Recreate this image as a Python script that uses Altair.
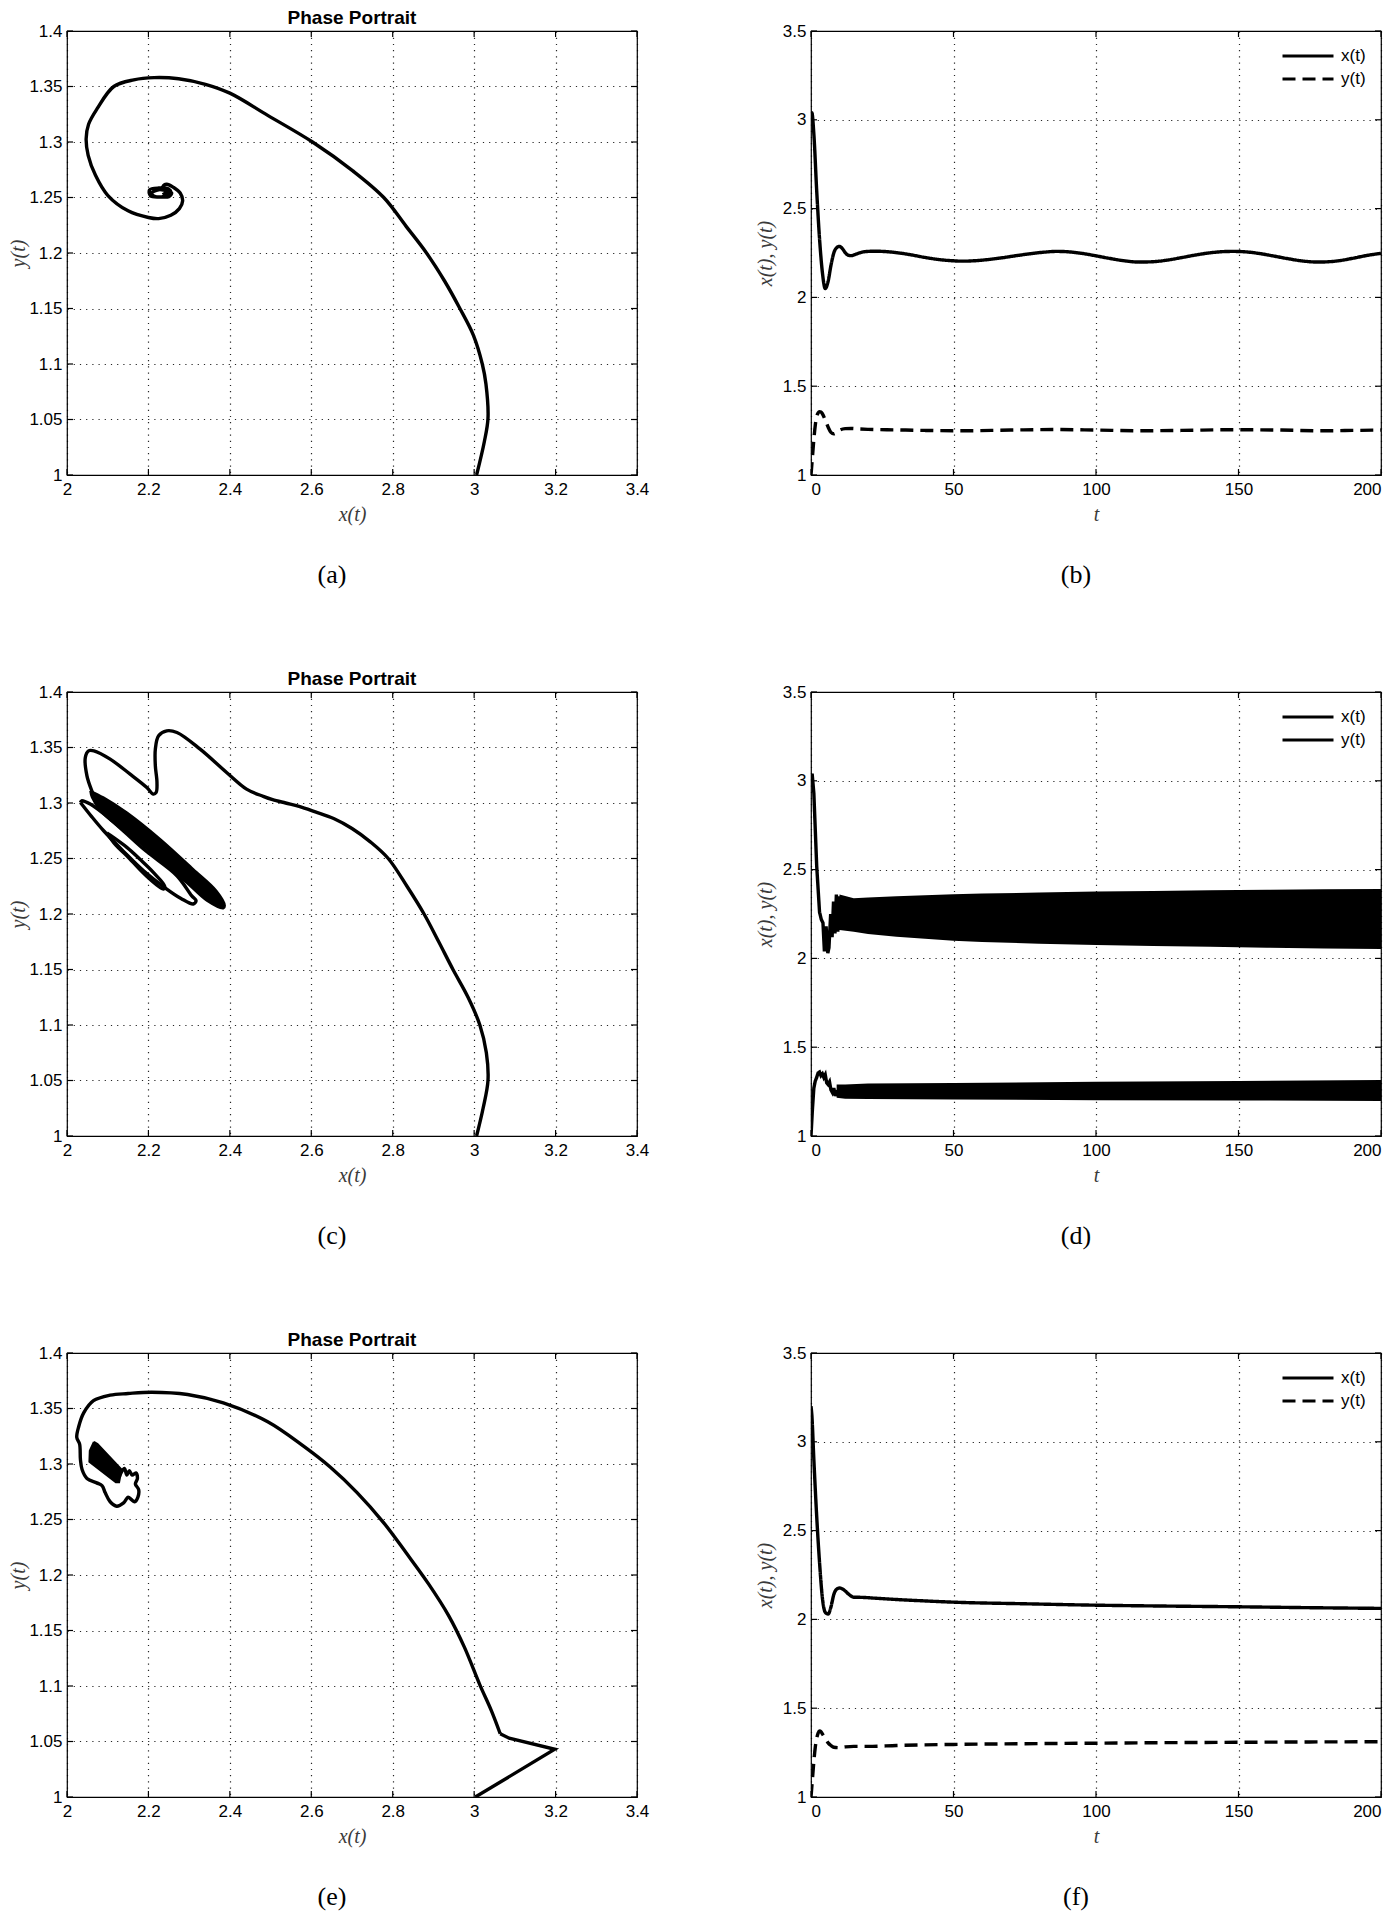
import altair as alt
import pandas as pd

SANS = "Liberation Sans"
SERIF = "Liberation Serif"
W, H = 570, 444
TICK_LEN = 6

# ---------------- tick labels / categories ----------------
PHASE_X_TICKS = [2.0, 2.2, 2.4, 2.6, 2.8, 3.0, 3.2, 3.4]
PHASE_Y_TICKS = [1.0, 1.05, 1.1, 1.15, 1.2, 1.25, 1.3, 1.35, 1.4]
TIME_X_TICKS = [0, 50, 100, 150, 200]
TIME_Y_TICKS = [1.0, 1.5, 2.0, 2.5, 3.0, 3.5]
SERIES = ["x(t)", "y(t)"]
CAPTIONS = ["(a)", "(b)", "(c)", "(d)", "(e)", "(f)"]
PHASE_TITLE = "Phase Portrait"

# ---------------- (a) phase portrait ----------------
a_x = [3.006, 3.025, 3.034, 3.029, 3.020, 2.998, 2.965, 2.927, 2.883, 2.833, 2.778, 2.702,
       2.603, 2.493, 2.400, 2.340, 2.274, 2.214, 2.164, 2.115, 2.074, 2.053, 2.047, 2.052,
       2.070, 2.100, 2.150, 2.200, 2.225, 2.255, 2.276, 2.284, 2.278, 2.262, 2.245, 2.236,
       2.240, 2.257, 2.250, 2.230, 2.205, 2.203, 2.225, 2.250, 2.255, 2.240, 2.215, 2.207,
       2.225, 2.245, 2.235]
a_y = [1.000, 1.030, 1.051, 1.082, 1.100, 1.126, 1.150, 1.175, 1.200, 1.224, 1.250, 1.274,
       1.300, 1.324, 1.344, 1.352, 1.357, 1.358, 1.356, 1.350, 1.330, 1.316, 1.303, 1.288,
       1.270, 1.252, 1.238, 1.232, 1.231, 1.234, 1.240, 1.247, 1.254, 1.259, 1.262, 1.260,
       1.256, 1.254, 1.2508, 1.2505, 1.2515, 1.257, 1.2585, 1.2575, 1.2545, 1.2512, 1.251,
       1.2535, 1.257, 1.2555, 1.2525]

# ---------------- (c) phase portrait ----------------
c_main_x = [3.006, 3.022, 3.034, 3.030, 3.014, 2.985, 2.948, 2.913, 2.877, 2.835, 2.789, 2.745,
            2.700, 2.655, 2.610, 2.570, 2.537, 2.505, 2.482, 2.441, 2.392, 2.327, 2.270, 2.245,
            2.225, 2.217, 2.217, 2.221, 2.219, 2.212, 2.196, 2.155, 2.106, 2.066, 2.053, 2.045,
            2.049, 2.061, 2.074]
c_main_y = [1.000, 1.025, 1.050, 1.075, 1.100, 1.125, 1.150, 1.175, 1.200, 1.225, 1.250, 1.265,
            1.277, 1.286, 1.292, 1.297, 1.300, 1.303, 1.306, 1.3125, 1.3275, 1.3485, 1.3635, 1.365,
            1.3605, 1.3485, 1.3335, 1.3185, 1.3095, 1.308, 1.314, 1.326, 1.3395, 1.347, 1.347,
            1.341, 1.3245, 1.311, 1.3005]
c_outer_x = [2.033, 2.060, 2.090, 2.140, 2.188, 2.245, 2.280, 2.310, 2.317, 2.306, 2.270, 2.188,
             2.106, 2.057, 2.036, 2.033]
c_outer_y = [1.3005, 1.288, 1.275, 1.256, 1.239, 1.2225, 1.214, 1.209, 1.212, 1.2165, 1.2345, 1.2585,
             1.2855, 1.299, 1.302, 1.3005]
c_inner_x = [2.098, 2.120, 2.147, 2.190, 2.237, 2.240, 2.212, 2.180, 2.147, 2.106, 2.098]
c_inner_y = [1.273, 1.262, 1.2525, 1.236, 1.2225, 1.225, 1.2375, 1.249, 1.260, 1.271, 1.273]
c_fill_x = [2.057, 2.090, 2.147, 2.229, 2.310, 2.367, 2.388, 2.384, 2.343, 2.294, 2.229, 2.172,
            2.123, 2.082, 2.061, 2.057]
c_fill_y = [1.311, 1.305, 1.2915, 1.2675, 1.2405, 1.221, 1.2075, 1.205, 1.212, 1.228, 1.248, 1.266,
            1.2795, 1.293, 1.305, 1.311]

# ---------------- (e) phase portrait ----------------
e_seg_x = [3.003, 3.198, 3.086, 3.064]
e_seg_y = [1.000, 1.043, 1.053, 1.057]
e_x = [3.064, 3.042, 3.014, 2.976, 2.938, 2.888, 2.833, 2.778, 2.713,
       2.647, 2.581, 2.493, 2.384, 2.296, 2.208, 2.150, 2.106, 2.065, 2.041, 2.029, 2.024,
       2.031, 2.033, 2.037, 2.049, 2.073, 2.086, 2.094, 2.106, 2.122, 2.139, 2.150, 2.158,
       2.166, 2.174, 2.176, 2.168, 2.173, 2.169, 2.160, 2.153, 2.147, 2.141, 2.134, 2.128]
e_y = [1.057, 1.078, 1.101, 1.135, 1.163, 1.192, 1.220, 1.247, 1.274,
       1.297, 1.316, 1.338, 1.355, 1.3626, 1.3647, 1.3635, 1.362, 1.357, 1.346, 1.334, 1.324,
       1.318, 1.304, 1.295, 1.287, 1.283, 1.2805, 1.274, 1.266, 1.262, 1.265, 1.270, 1.268,
       1.266, 1.270, 1.277, 1.282, 1.287, 1.292, 1.290, 1.294, 1.290, 1.296, 1.293, 1.288]
e_fill_x = [2.066, 2.075, 2.134, 2.128, 2.120, 2.055, 2.056, 2.066]
e_fill_y = [1.320, 1.318, 1.295, 1.2835, 1.2835, 1.302, 1.312, 1.320]

# ---------------- (b) time series ----------------
bx_t = [0, 0.3, 1, 2, 3, 4, 5, 6, 7, 8, 9, 10, 11, 12, 13, 14, 16, 18, 20, 23, 27, 31, 35, 40,
        45, 50, 53, 57, 62, 67, 72, 77, 82, 86, 90, 95, 100, 105, 110, 115, 120, 125, 130, 135,
        140, 145, 148, 152, 157, 162, 167, 172, 178, 184, 190, 195, 200]
bx_v = [3.00, 3.04, 2.92, 2.60, 2.33, 2.14, 2.05, 2.09, 2.18, 2.25, 2.28, 2.287, 2.275, 2.252,
        2.238, 2.235, 2.245, 2.255, 2.259, 2.260, 2.257, 2.250, 2.240, 2.225, 2.213, 2.206, 2.204,
        2.206, 2.213, 2.223, 2.235, 2.246, 2.255, 2.259, 2.257, 2.248, 2.234, 2.219, 2.206, 2.199,
        2.201, 2.210, 2.224, 2.239, 2.251, 2.258, 2.259, 2.257, 2.248, 2.234, 2.219, 2.206, 2.199,
        2.204, 2.220, 2.236, 2.248]
by_t = [0, 0.5, 1, 1.5, 2, 2.5, 3, 3.5, 4, 5, 6, 7, 8, 9, 10, 12, 14, 17, 20, 30, 40, 53, 70,
        85, 100, 115, 130, 148, 165, 178, 190, 200]
by_v = [1.0, 1.1, 1.2, 1.28, 1.33, 1.35, 1.357, 1.355, 1.345, 1.31, 1.27, 1.24, 1.232, 1.24,
        1.252, 1.261, 1.262, 1.259, 1.257, 1.254, 1.251, 1.249, 1.253, 1.256, 1.253, 1.249, 1.251,
        1.255, 1.253, 1.249, 1.251, 1.253]

# ---------------- (d) time series ----------------
dx_t = [0, 0.4, 1, 2, 3, 3.6, 4.2, 4.7, 5.3, 5.9, 6.3, 6.9, 7.4, 7.9, 8.4, 8.9, 9.4, 9.9, 10.4]
dx_v = [3.0, 3.04, 2.93, 2.52, 2.26, 2.22, 2.20, 2.04, 2.18, 2.03, 2.06, 2.25, 2.12, 2.32, 2.14,
        2.36, 2.15, 2.35, 2.16]
dxband_t = [10, 15, 20, 30, 40, 50, 60, 80, 100, 120, 140, 160, 180, 200]
dxband_hi = [2.36, 2.338, 2.343, 2.35, 2.356, 2.361, 2.365, 2.371, 2.376, 2.38, 2.384, 2.387,
             2.389, 2.391]
dxband_lo = [2.16, 2.15, 2.138, 2.122, 2.11, 2.1, 2.093, 2.083, 2.075, 2.07, 2.065, 2.06, 2.056,
             2.053]
dy_t = [0, 0.5, 1, 1.5, 2, 2.5, 3, 3.5, 4, 4.5, 5, 5.5, 6, 6.5, 7, 7.5, 8, 8.5, 9]
dy_v = [1.0, 1.15, 1.27, 1.31, 1.33, 1.355, 1.36, 1.34, 1.35, 1.33, 1.345, 1.30, 1.29, 1.305,
        1.26, 1.245, 1.27, 1.225, 1.26]
dyband_t = [9, 12, 20, 50, 100, 150, 200]
dyband_hi = [1.29, 1.29, 1.295, 1.298, 1.305, 1.31, 1.315]
dyband_lo = [1.215, 1.21, 1.208, 1.205, 1.202, 1.2, 1.197]

# ---------------- (f) time series ----------------
fx_t = [0, 0.3, 1, 2, 3, 4, 5, 6, 7, 8, 9, 10, 11, 12, 13, 14, 15, 18, 22, 30, 40, 50, 75, 100,
        125, 150, 175, 200]
fx_v = [3.2, 3.15, 2.9, 2.58, 2.32, 2.12, 2.04, 2.03, 2.07, 2.14, 2.17, 2.177, 2.172, 2.16,
        2.145, 2.132, 2.125, 2.124, 2.12, 2.112, 2.104, 2.097, 2.088, 2.08, 2.075, 2.071, 2.066,
        2.062]
fy_t = [0, 0.5, 1, 1.5, 2, 2.5, 3, 3.5, 4, 5, 6, 7, 8, 10, 12, 15, 20, 30, 50, 75, 100, 125, 150,
        175, 200]
fy_v = [1.0, 1.1, 1.2, 1.28, 1.33, 1.36, 1.372, 1.368, 1.355, 1.33, 1.305, 1.29, 1.28, 1.278,
        1.282, 1.285, 1.285, 1.29, 1.296, 1.3, 1.303, 1.306, 1.308, 1.31, 1.311]

LINE_W = 3.4


# ---------------- helpers ----------------
def caption_layer(text):
    return alt.Chart(pd.DataFrame({"cap": [text]})).mark_text(
        font=SERIF, fontSize=26, align="center", baseline="middle", color="black"
    ).encode(x=alt.value(265), y=alt.value(544), text="cap:N")


def title_layer(text):
    return alt.Chart(pd.DataFrame({"ttl": [text]})).mark_text(
        font=SANS, fontSize=19, fontWeight="bold", align="center", baseline="middle", color="black"
    ).encode(x=alt.value(W / 2), y=alt.value(-13), text="ttl:N")


def tick_layers(xvals, yvals, xenc_fn, yenc_fn):
    """Inward tick marks on all four sides, placed through the panel's own scales."""
    xdf = pd.DataFrame({"tx": xvals})
    ydf = pd.DataFrame({"ty": yvals})
    rule = dict(color="black", strokeWidth=1.2)
    return [
        alt.Chart(xdf).mark_rule(**rule).encode(x=xenc_fn("tx"), y=alt.value(H), y2=alt.value(H - TICK_LEN)),
        alt.Chart(xdf).mark_rule(**rule).encode(x=xenc_fn("tx"), y=alt.value(0), y2=alt.value(TICK_LEN)),
        alt.Chart(ydf).mark_rule(**rule).encode(y=yenc_fn("ty"), x=alt.value(0), x2=alt.value(TICK_LEN)),
        alt.Chart(ydf).mark_rule(**rule).encode(y=yenc_fn("ty"), x=alt.value(W), x2=alt.value(W - TICK_LEN)),
    ]


def phase_x(field="x"):
    return alt.X(f"{field}:Q", scale=alt.Scale(domain=[2, 3.4], nice=False, zero=False),
                 axis=alt.Axis(values=PHASE_X_TICKS, format="~g", title="x(t)"))


def phase_y(field="y"):
    return alt.Y(f"{field}:Q", scale=alt.Scale(domain=[1, 1.4], nice=False, zero=False),
                 axis=alt.Axis(values=PHASE_Y_TICKS, format="~g", title="y(t)", titlePadding=0))


def to_df(parts):
    rows = []
    for name, xs, ys in parts:
        for i, (xv, yv) in enumerate(zip(xs, ys)):
            rows.append({"part": name, "i": i, "x": xv, "y": yv})
    return pd.DataFrame(rows)


def phase_panel(curves, caption, straight=None, fills=None, smooth_fill=True):
    layers = tick_layers(PHASE_X_TICKS, PHASE_Y_TICKS, phase_x, phase_y)
    if fills:
        layers.append(
            alt.Chart(to_df(fills)).mark_line(
                fill="black", stroke="black", strokeWidth=2, clip=True,
                interpolate="catmull-rom" if smooth_fill else "linear")
            .encode(x=phase_x(), y=phase_y(), order="i:Q", detail="part:N")
        )
    if straight:
        layers.append(
            alt.Chart(to_df(straight)).mark_line(color="black", strokeWidth=LINE_W, clip=True)
            .encode(x=phase_x(), y=phase_y(), order="i:Q", detail="part:N")
        )
    layers.append(
        alt.Chart(to_df(curves)).mark_line(color="black", strokeWidth=LINE_W, clip=True,
                                           interpolate="catmull-rom")
        .encode(x=phase_x(), y=phase_y(), order="i:Q", detail="part:N")
    )
    layers.append(title_layer(PHASE_TITLE))
    layers.append(caption_layer(caption))
    return alt.layer(*layers).properties(width=W, height=H)


def time_x(field="t"):
    return alt.X(f"{field}:Q", scale=alt.Scale(domain=[0, 200], nice=False, zero=False),
                 axis=alt.Axis(values=TIME_X_TICKS, format="d", title="t", labelFlush=6))


def time_y(field="v"):
    return alt.Y(f"{field}:Q", scale=alt.Scale(domain=[1, 3.5], nice=False, zero=False),
                 axis=alt.Axis(values=TIME_Y_TICKS, format="~g", title="x(t), y(t)", titlePadding=7))


def series_df(xt, xv, yt, yv):
    return pd.concat([
        pd.DataFrame({"t": xt, "v": xv, "series": SERIES[0]}),
        pd.DataFrame({"t": yt, "v": yv, "series": SERIES[1]}),
    ], ignore_index=True)


def time_panel(df, dashes, caption, bands=None, interp="monotone"):
    layers = tick_layers(TIME_X_TICKS, TIME_Y_TICKS, time_x, time_y)
    for bt, blo, bhi in (bands or []):
        bdf = pd.DataFrame({"t": bt, "lo": blo, "hi": bhi})
        layers.append(
            alt.Chart(bdf).mark_area(color="black", opacity=1, clip=True)
            .encode(x=time_x(), y=time_y("lo"), y2="hi:Q")
        )
    layers.append(
        alt.Chart(df).mark_line(strokeWidth=LINE_W, clip=True, interpolate=interp).encode(
            x=time_x(), y=time_y(),
            color=alt.Color("series:N", scale=alt.Scale(domain=SERIES, range=["black", "black"]),
                            legend=alt.Legend(title=None)),
            strokeDash=alt.StrokeDash("series:N", scale=alt.Scale(domain=SERIES, range=dashes),
                                      legend=alt.Legend(title=None)),
        )
    )
    layers.append(caption_layer(caption))
    return alt.layer(*layers).properties(width=W, height=H)


SOLID_DASHED = [[1, 0], [13, 7]]
SOLID_SOLID = [[1, 0], [1, 0]]

pa = phase_panel([("main", a_x, a_y)], CAPTIONS[0])
pb = time_panel(series_df(bx_t, bx_v, by_t, by_v), SOLID_DASHED, CAPTIONS[1])
pc = phase_panel([("main", c_main_x, c_main_y), ("outer", c_outer_x, c_outer_y),
                  ("inner", c_inner_x, c_inner_y)], CAPTIONS[2],
                 fills=[("fill", c_fill_x, c_fill_y)])
pd_ = time_panel(series_df(dx_t, dx_v, dy_t, dy_v), SOLID_SOLID, CAPTIONS[3],
                 bands=[(dxband_t, dxband_lo, dxband_hi), (dyband_t, dyband_lo, dyband_hi)],
                 interp="linear")
pe = phase_panel([("main", e_x, e_y)], CAPTIONS[4], straight=[("seg", e_seg_x, e_seg_y)],
                 fills=[("fill", e_fill_x, e_fill_y)], smooth_fill=False)
pf = time_panel(series_df(fx_t, fx_v, fy_t, fy_v), SOLID_DASHED, CAPTIONS[5])

chart = alt.concat(
    pa, pb, pc, pd_, pe, pf, columns=2, spacing={"row": 217, "column": 174}, bounds="flush"
).resolve_scale(
    x="independent", y="independent", color="independent", strokeDash="independent"
).resolve_legend(
    color="independent", strokeDash="independent"
).properties(
    padding={"left": 0, "top": 0, "right": 0, "bottom": 0},
    autosize=alt.AutoSizeParams(type="pad"),
).configure_view(
    stroke="black", strokeWidth=1.2
).configure_axis(
    grid=True, gridColor="black", gridDash=[1.2, 5], gridWidth=1.2, gridOpacity=0.85,
    domain=False, ticks=False, tickSize=0,
    labelFont=SANS, labelFontSize=17, labelColor="black", labelFlush=False, labelOverlap=False,
    titleFont=SERIF, titleFontSize=20, titleFontStyle="italic", titleFontWeight="normal",
    titleColor="#3a3a3a",
).configure_axisX(
    labelPadding=6, titlePadding=7
).configure_axisY(
    labelPadding=5
).configure_legend(
    orient="top-right", offset=15, padding=0, labelFont=SANS, labelFontSize=17,
    labelColor="black", symbolType="M-5,0H1", symbolSize=289, symbolStrokeWidth=3,
    labelOffset=6, rowPadding=5,
)

chart.save("out.html", embed_options={"renderer": "svg", "actions": False})
